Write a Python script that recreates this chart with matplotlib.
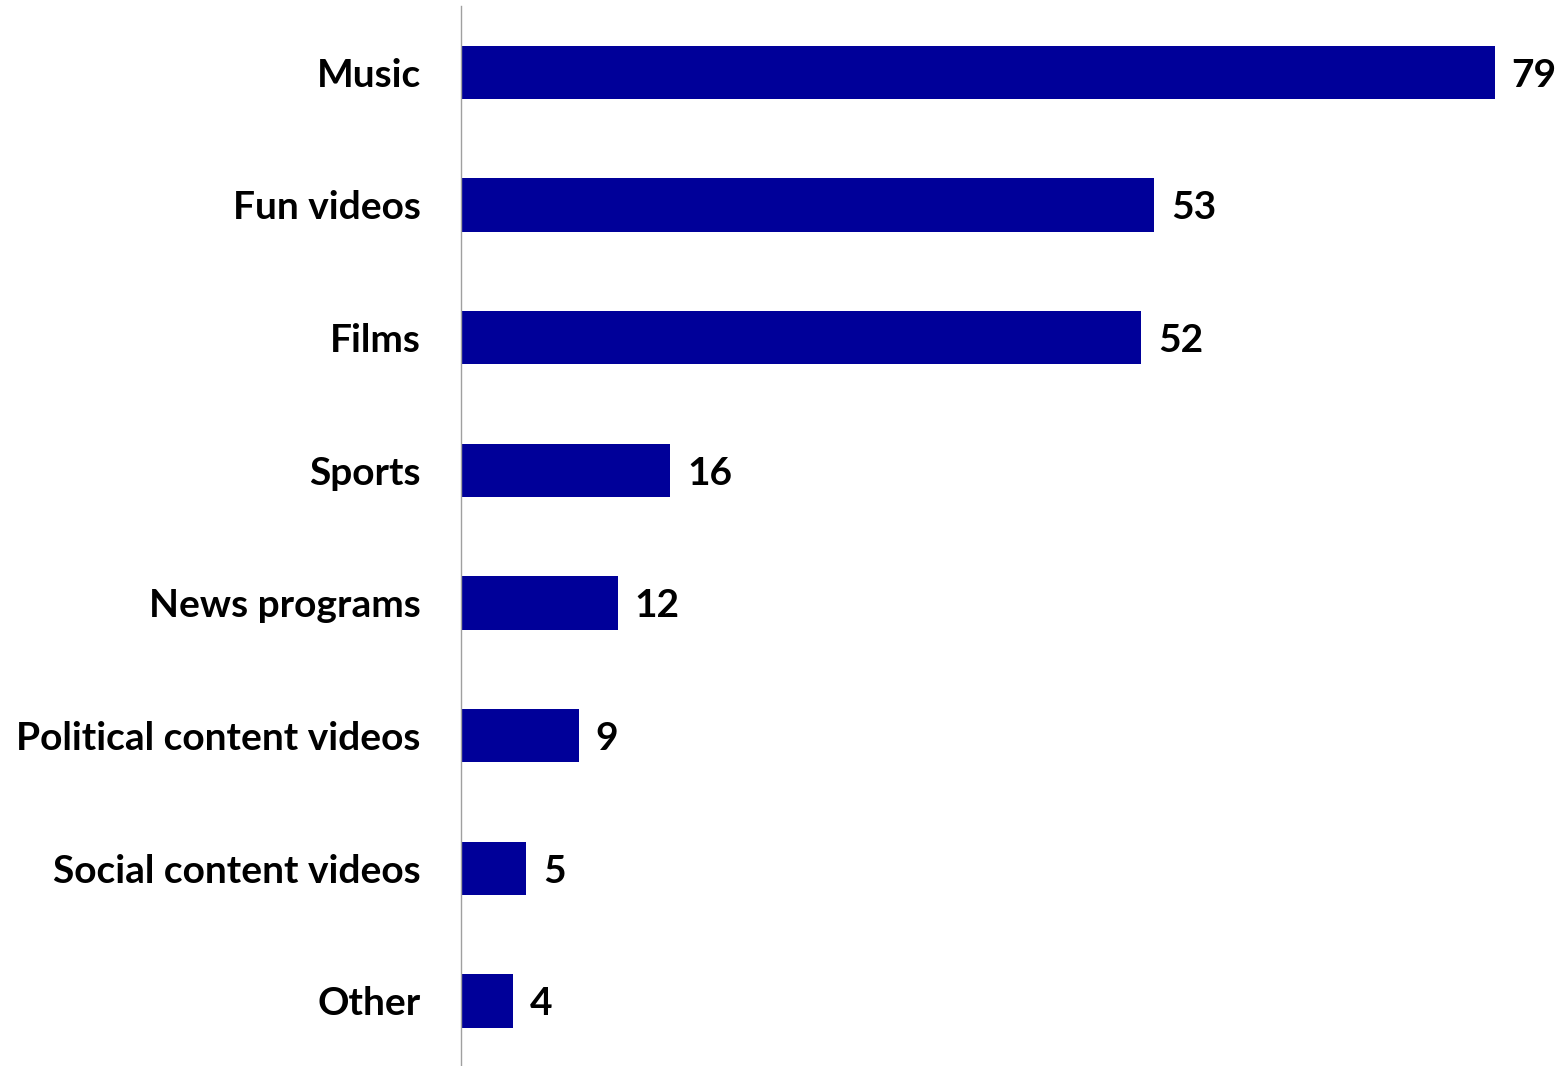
import matplotlib.pyplot as plt

categories = ['Music', 'Fun videos', 'Films', 'Sports', 'News programs',
              'Political content videos', 'Social content videos', 'Other']
values = [79, 53, 52, 16, 12, 9, 5, 4]

plt.rcParams['font.family'] = ['Lato', 'DejaVu Sans']

fig = plt.figure(figsize=(15.6, 10.66), dpi=100)
ax = fig.add_axes([461 / 1560, 0.0, 1 - 461 / 1560, 1 - 6 / 1066])

y = range(len(categories))
ax.barh(y, values, height=0.4, color='#000099')

for i, v in enumerate(values):
    ax.annotate(str(v), (v, i), xytext=(12, 0), textcoords='offset points',
                va='center_baseline', ha='left', fontsize=28, fontweight='bold')

ax.set_ylim(7.49, -0.5)
ax.set_xlim(0, 84.0)
ax.set_yticks(list(y))
ax.set_yticklabels(categories, fontsize=28, fontweight='bold')
for t in ax.get_yticklabels():
    t.set_verticalalignment('center_baseline')
ax.tick_params(axis='y', length=0, pad=29)
ax.set_xticks([])

for s in ['top', 'right', 'bottom']:
    ax.spines[s].set_visible(False)
ax.spines['left'].set_color('#a0a0a0')
ax.spines['left'].set_linewidth(1)

fig.savefig('out.png', dpi=100)
